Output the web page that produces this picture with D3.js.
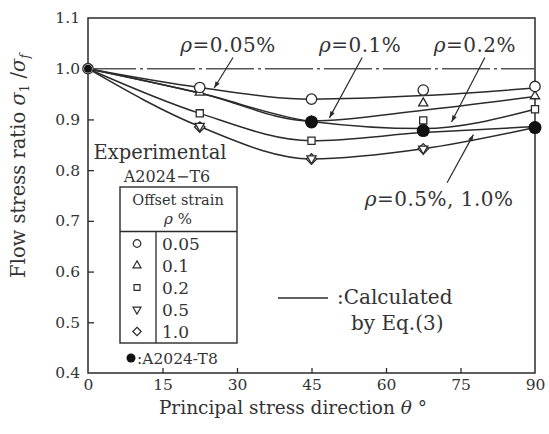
<!DOCTYPE html>
<html><head><meta charset="utf-8">
<script src="https://cdn.jsdelivr.net/npm/d3@7"></script>
<style>
html,body{margin:0;padding:0;background:#fff;}
svg text{font-family:"DejaVu Serif",serif;fill:#333;}
</style></head>
<body><svg id="c" width="549" height="434"></svg>
<script>
// ---- data ----
const xTicks = [0, 15, 30, 45, 60, 75, 90];
const yTicks = [0.4, 0.5, 0.6, 0.7, 0.8, 0.9, 1.0, 1.1];
const theta = [0, 22.5, 45, 67.5, 90];

// calculated curves (Eq.(3))
const calc005 = [1.0, 0.963, 0.940, 0.947, 0.962];
const calc01  = [1.0, 0.952, 0.897, 0.918, 0.945];
const calc02  = [1.0, 0.952, 0.896, 0.882, 0.920];
const calcSq  = [1.0, 0.912, 0.858, 0.874, 0.886];
const calc05  = [1.0, 0.886, 0.822, 0.842, 0.884];

// experimental A2024-T6 (theta 22.5, 45, 67.5, 90)
const expTheta = [22.5, 45, 67.5, 90];
const exp005 = [0.963, 0.940, 0.958, 0.965];
const exp01  = [0.953, 0.896, 0.932, 0.946];
const exp02  = [0.912, 0.858, 0.898, 0.920];
const exp05  = [0.887, 0.823, 0.842, 0.884];
const exp10  = [0.885, 0.822, 0.842, 0.884];
// A2024-T8
const t8Theta = [0, 45, 67.5, 90];
const t8 = [1.0, 0.895, 0.878, 0.884];

const legendRows = ["0.05", "0.1", "0.2", "0.5", "1.0"];

// ---- chart ----
const svg = d3.select("#c");
const x = d3.scaleLinear().domain([0, 90]).range([88, 535]);
const y = d3.scaleLinear().domain([0.4, 1.1]).range([373, 18]);
const ink = "#2b2b2b";

// frame
svg.append("rect").attr("x", x(0)).attr("y", y(1.1))
  .attr("width", x(90) - x(0)).attr("height", y(0.4) - y(1.1))
  .attr("fill", "none").attr("stroke", ink).attr("stroke-width", 1.5);

// axes
const xAxis = svg.append("g").attr("transform", `translate(0,${y(0.4)})`)
  .call(d3.axisBottom(x).tickValues(xTicks).tickSize(-5).tickPadding(6).tickFormat(d3.format("d")));
const yAxis = svg.append("g").attr("transform", `translate(${x(0)},0)`)
  .call(d3.axisLeft(y).tickValues(yTicks).tickSize(-6).tickPadding(8).tickFormat(d3.format(".1f")));
[xAxis, yAxis].forEach(g => {
  g.select(".domain").remove();
  g.selectAll("line").attr("stroke", ink).attr("stroke-width", 1.3);
  g.selectAll("text").style("font-family", "DejaVu Serif").style("font-size", "15.5px").attr("fill", "#333");
});
xAxis.selectAll("line").filter(d => d === 0 || d === 90).remove();
yAxis.selectAll("line").filter(d => d === 0.4 || d === 1.1).remove();

// axis titles
const xt = svg.append("text").attr("x", 293).attr("y", 414).attr("text-anchor", "middle")
  .style("font-size", "18.5px");
xt.append("tspan").text("Principal stress direction ");
xt.append("tspan").attr("font-style", "italic").text("θ");
xt.append("tspan").text(" °");
const yt = svg.append("text").attr("transform", "translate(25,166) rotate(-90)")
  .attr("text-anchor", "middle").style("font-size", "19.5px");
yt.append("tspan").text("Flow stress ratio ");
yt.append("tspan").attr("font-style", "italic").text("σ");
yt.append("tspan").attr("font-size", "12px").attr("dy", 4).text("1");
yt.append("tspan").attr("dy", -4).text(" /");
yt.append("tspan").attr("font-style", "italic").text("σ");
yt.append("tspan").attr("font-size", "12px").attr("font-style", "italic").attr("dy", 4).text("f");

// reference chain line at 1.0
svg.append("line").attr("x1", x(0)).attr("x2", x(90)).attr("y1", y(1.0)).attr("y2", y(1.0))
  .attr("stroke", "#555").attr("stroke-width", 1.4).attr("stroke-dasharray", "48,4,3,4");

// curves
const line = d3.line().x(d => x(d[0])).y(d => y(d[1])).curve(d3.curveMonotoneX);
[calc005, calc01, calc02, calcSq, calc05].forEach(vals => {
  svg.append("path").attr("d", line(theta.map((t, i) => [t, vals[i]])))
    .attr("fill", "none").attr("stroke", ink).attr("stroke-width", 1.5);
});

// markers
const sym = {
  c: d3.symbol().type(d3.symbolCircle).size(85),
  t: d3.symbol().type(d3.symbolTriangle2).size(60),
  s: d3.symbol().type(d3.symbolSquare2).size(65),
  d: d3.symbol().type(d3.symbolDiamond2).size(70)
};
function marks(th, vals, key, rot) {
  th.forEach((t, i) => {
    svg.append("path").attr("d", sym[key]())
      .attr("transform", `translate(${x(t)},${y(vals[i])}) rotate(${rot || 0})`)
      .attr("fill", "#fff").attr("stroke", ink).attr("stroke-width", 1.3);
  });
}
marks(expTheta, exp10, "d");
marks(expTheta, exp05, "t", 180);
marks(expTheta, exp02, "s");
marks(expTheta, exp01, "t");
marks(expTheta, exp005, "c");
marks([0], [1.0], "c");
t8Theta.forEach((t, i) => {
  svg.append("circle").attr("cx", x(t)).attr("cy", y(t8[i])).attr("r", t === 0 ? 4 : 6.5)
    .attr("fill", "#111");
});

// annotations (text position, arrow start, arrow tip) in data coords
const annText = ["ρ=0.05%", "ρ=0.1%", "ρ=0.2%", "ρ=0.5%, 1.0%"];
const annPos  = [[28.2, 1.032], [54.8, 1.032], [77.9, 1.032], [70.7, 0.730]];
const annFrom = [[29.2, 1.022], [55.2, 1.022], [79.9, 1.022], [72.3, 0.775]];
const annTo   = [[25.4, 0.962], [48.6, 0.903], [73.2, 0.895], [77.6, 0.870]];
annText.forEach((t, i) => {
  const tx = svg.append("text").attr("x", x(annPos[i][0])).attr("y", y(annPos[i][1]))
    .attr("text-anchor", "middle").style("font-size", "20px").style("letter-spacing", "0.5px");
  tx.append("tspan").attr("font-style", "italic").text("ρ");
  tx.append("tspan").text(t.slice(1));
  const x1 = x(annFrom[i][0]), y1 = y(annFrom[i][1]), x2 = x(annTo[i][0]), y2 = y(annTo[i][1]);
  svg.append("line").attr("x1", x1).attr("y1", y1).attr("x2", x2).attr("y2", y2)
    .attr("stroke", ink).attr("stroke-width", 1.2);
  const a = Math.atan2(y2 - y1, x2 - x1), L = 7, w = 0.35;
  svg.append("path").attr("d", `M${x2},${y2}L${x2 - L * Math.cos(a - w)},${y2 - L * Math.sin(a - w)}L${x2 - L * Math.cos(a + w)},${y2 - L * Math.sin(a + w)}Z`)
    .attr("fill", ink);
});

// legend
svg.append("text").attr("x", 160).attr("y", 159).attr("text-anchor", "middle")
  .style("font-size", "19.5px").text("Experimental");
svg.append("text").attr("x", 167).attr("y", 182).attr("text-anchor", "middle")
  .style("font-size", "16px").text("A2024−T6");
svg.append("rect").attr("x", 120).attr("y", 187).attr("width", 117).attr("height", 156)
  .attr("fill", "#fff").attr("stroke", ink).attr("stroke-width", 1.4);
svg.append("line").attr("x1", 120).attr("x2", 237).attr("y1", 231.5).attr("y2", 231.5)
  .attr("stroke", ink).attr("stroke-width", 1.3);
svg.append("line").attr("x1", 156).attr("x2", 156).attr("y1", 231.5).attr("y2", 343)
  .attr("stroke", ink).attr("stroke-width", 1.3);
svg.append("text").attr("x", 178).attr("y", 205).attr("text-anchor", "middle")
  .style("font-size", "14.5px").text("Offset strain");
const hp = svg.append("text").attr("x", 178).attr("y", 224).attr("text-anchor", "middle").style("font-size", "15px");
hp.append("tspan").attr("font-style", "italic").text("ρ");
hp.append("tspan").text("  %");
const legSym = [["c", 0], ["t", 0], ["s", 0], ["t", 180], ["d", 0]];
legendRows.forEach((r, i) => {
  const cy = 243.5 + i * 22;
  svg.append("path").attr("d", d3.symbol().type(
      legSym[i][0] === "c" ? d3.symbolCircle : legSym[i][0] === "t" ? d3.symbolTriangle2 :
      legSym[i][0] === "s" ? d3.symbolSquare2 : d3.symbolDiamond2).size(45)())
    .attr("transform", `translate(137,${cy}) rotate(${legSym[i][1]})`)
    .attr("fill", "#fff").attr("stroke", ink).attr("stroke-width", 1.2);
  svg.append("text").attr("x", 162).attr("y", cy + 6).style("font-size", "17px").text(r);
});
svg.append("circle").attr("cx", 131).attr("cy", 358).attr("r", 4.5).attr("fill", "#111");
svg.append("text").attr("x", 137).attr("y", 364).style("font-size", "15.5px").text(":A2024-T8");

// calculated legend
svg.append("line").attr("x1", 278).attr("x2", 328).attr("y1", 298).attr("y2", 298)
  .attr("stroke", ink).attr("stroke-width", 1.5);
svg.append("text").attr("x", 337).attr("y", 304).style("font-size", "20px").text(":Calculated");
svg.append("text").attr("x", 351).attr("y", 330).style("font-size", "20px").text("by Eq.(3)");
</script></body></html>
